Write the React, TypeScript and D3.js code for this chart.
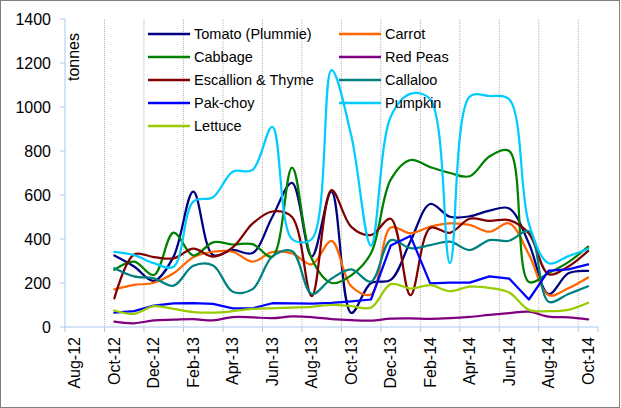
import React from "react";
import * as d3 from "d3";

const allMonths = ["Aug-12","Sep-12","Oct-12","Nov-12","Dec-12","Jan-13","Feb-13","Mar-13","Apr-13","May-13","Jun-13","Jul-13","Aug-13","Sep-13","Oct-13","Nov-13","Dec-13","Jan-14","Feb-14","Mar-14","Apr-14","May-14","Jun-14","Jul-14","Aug-14","Sep-14","Oct-14"];
const dataMonths = ["Oct-12","Nov-12","Dec-12","Jan-13","Feb-13","Mar-13","Apr-13","May-13","Jun-13","Jul-13","Aug-13","Sep-13","Oct-13","Nov-13","Dec-13","Jan-14","Feb-14","Mar-14","Apr-14","May-14","Jun-14","Jul-14","Aug-14","Sep-14","Oct-14"];
const tickLabels = ["Aug-12","Oct-12","Dec-12","Feb-13","Apr-13","Jun-13","Aug-13","Oct-13","Dec-13","Feb-14","Apr-14","Jun-14","Aug-14","Oct-14"];
const yTicks = [0, 200, 400, 600, 800, 1000, 1200, 1400];

const tomato = [325, 275, 210, 320, 615, 327, 350, 336, 500, 655, 320, 615, 64, 200, 214, 390, 559, 501, 503, 529, 539, 380, 150, 244, 255];
const carrot = [171, 191, 201, 244, 317, 342, 342, 297, 341, 335, 285, 391, 185, 148, 452, 426, 456, 471, 464, 433, 471, 330, 145, 176, 225];
const cabbage = [260, 297, 236, 429, 325, 385, 375, 377, 320, 725, 310, 200, 235, 335, 670, 759, 727, 700, 685, 775, 800, 205, 245, 295, 365];
const redPeas = [24, 17, 30, 33, 36, 30, 45, 44, 40, 48, 45, 36, 31, 29, 38, 39, 37, 40, 46, 55, 63, 70, 47, 44, 35];
const escallion = [130, 330, 318, 312, 356, 320, 362, 470, 525, 500, 140, 622, 455, 418, 492, 145, 450, 428, 492, 482, 486, 425, 240, 275, 346];
const callaloo = [267, 230, 221, 188, 278, 280, 160, 172, 320, 345, 150, 220, 262, 206, 395, 358, 372, 388, 350, 395, 392, 435, 115, 150, 185];
const pakchoy = [65, 72, 97, 107, 108, 105, 85, 85, 108, 107, 106, 110, 117, 125, 370, 414, 198, 202, 202, 230, 220, 125, 256, 262, 285];
const pumpkin = [342, 327, 290, 274, 570, 590, 706, 714, 910, 400, 400, 1168, 870, 370, 956, 1060, 1035, 290, 1047, 1050, 1035, 470, 290, 322, 355];
const lettuce = [75, 60, 95, 82, 68, 65, 72, 82, 85, 88, 92, 100, 95, 88, 195, 175, 190, 163, 183, 178, 157, 78, 72, 78, 110];

const seriesNames = ["Tomato (Plummie)", "Carrot", "Cabbage", "Red Peas", "Escallion & Thyme", "Callaloo", "Pak-choy", "Pumpkin", "Lettuce"];
const seriesValues = [tomato, carrot, cabbage, redPeas, escallion, callaloo, pakchoy, pumpkin, lettuce];
const seriesColors = ["#000080", "#FF6600", "#008000", "#800080", "#800000", "#008080", "#0000FF", "#00CCFF", "#99CC00"];
const seriesSmooth = [true, true, true, true, true, true, false, true, true];

const W = 621;
const H = 408;
const FONT = "'Liberation Sans', Arial, sans-serif";

export default function App() {
  React.useEffect(() => {
    document.body.style.margin = "0";
  }, []);

  const x = d3.scaleBand<string>().domain(allMonths).range([65, 598]).padding(0);
  const y = d3.scaleLinear().domain([0, 1400]).range([327, 19]);
  const cx = (m: string) => (x(m) as number) + x.bandwidth() / 2;

  const smoothLine = d3.line<number>()
    .x((_, i) => cx(dataMonths[i]))
    .y((v) => y(v))
    .curve(d3.curveCatmullRom.alpha(0.5));
  const straightLine = d3.line<number>()
    .x((_, i) => cx(dataMonths[i]))
    .y((v) => y(v));

  const legendCols = [148, 339];
  const legendRows = [34, 57, 80, 103, 126];

  return (
    <svg width={W} height={H} style={{ position: "absolute", left: 0, top: 0, display: "block" }} fontFamily={FONT}>
      <rect x={0} y={0} width={W} height={H} fill="#ffffff" />
      <rect x={0.5} y={0.5} width={619} height={407} fill="none" stroke="#808080" strokeWidth={1} />
      {/* gridlines */}
      {tickLabels.map((t, i) => i === 0 ? null : (
        <line key={"g" + t} x1={x(t) as number} x2={x(t) as number} y1={y(1400)} y2={y(0)} stroke="#b4b4b4" strokeWidth={1} strokeDasharray="1,1" />
      ))}
      {/* y axis */}
      <line x1={65} x2={65} y1={y(1400)} y2={y(0)} stroke="#a9c9ee" strokeWidth={1} />
      {yTicks.map((v) => (
        <g key={"yt" + v}>
          <line x1={60} x2={65} y1={y(v)} y2={y(v)} stroke="#a9c9ee" strokeWidth={1} />
          <text x={51} y={y(v)} dy="0.35em" textAnchor="end" fontSize={16} fill="#000">{v}</text>
        </g>
      ))}
      {/* x axis */}
      <line x1={65} x2={598} y1={y(0)} y2={y(0)} stroke="#a9c9ee" strokeWidth={1} />
      {tickLabels.map((t) => (
        <line key={"xt" + t} x1={x(t) as number} x2={x(t) as number} y1={y(0)} y2={y(0) + 5} stroke="#a9c9ee" strokeWidth={1} />
      ))}
      <line x1={598} x2={598} y1={y(0)} y2={y(0) + 5} stroke="#a9c9ee" strokeWidth={1} />
      {tickLabels.map((t) => (
        <text key={"xl" + t} transform={`translate(${cx(t)},337) rotate(-90)`} dy="0.35em" textAnchor="end" fontSize={16} fill="#000">{t}</text>
      ))}
      <text transform={`translate(79,57) rotate(-90)`} textAnchor="middle" fontSize={16} fill="#000">tonnes</text>
      {/* series */}
      {seriesValues.map((vals, i) => (
        <path key={"s" + i} d={(seriesSmooth[i] ? smoothLine : straightLine)(vals) || ""} fill="none" stroke={seriesColors[i]} strokeWidth={2.25} strokeLinejoin="round" strokeLinecap="round" />
      ))}
      {/* legend */}
      {seriesNames.map((name, i) => {
        const col = i % 2;
        const row = Math.floor(i / 2);
        const lx = legendCols[col];
        const ly = legendRows[row];
        return (
          <g key={"l" + i}>
            <line x1={lx} x2={lx + 42} y1={ly} y2={ly} stroke={seriesColors[i]} strokeWidth={2.5} />
            <text x={lx + 46} y={ly} dy="0.35em" fontSize={14.5} fill="#000">{name}</text>
          </g>
        );
      })}
    </svg>
  );
}
